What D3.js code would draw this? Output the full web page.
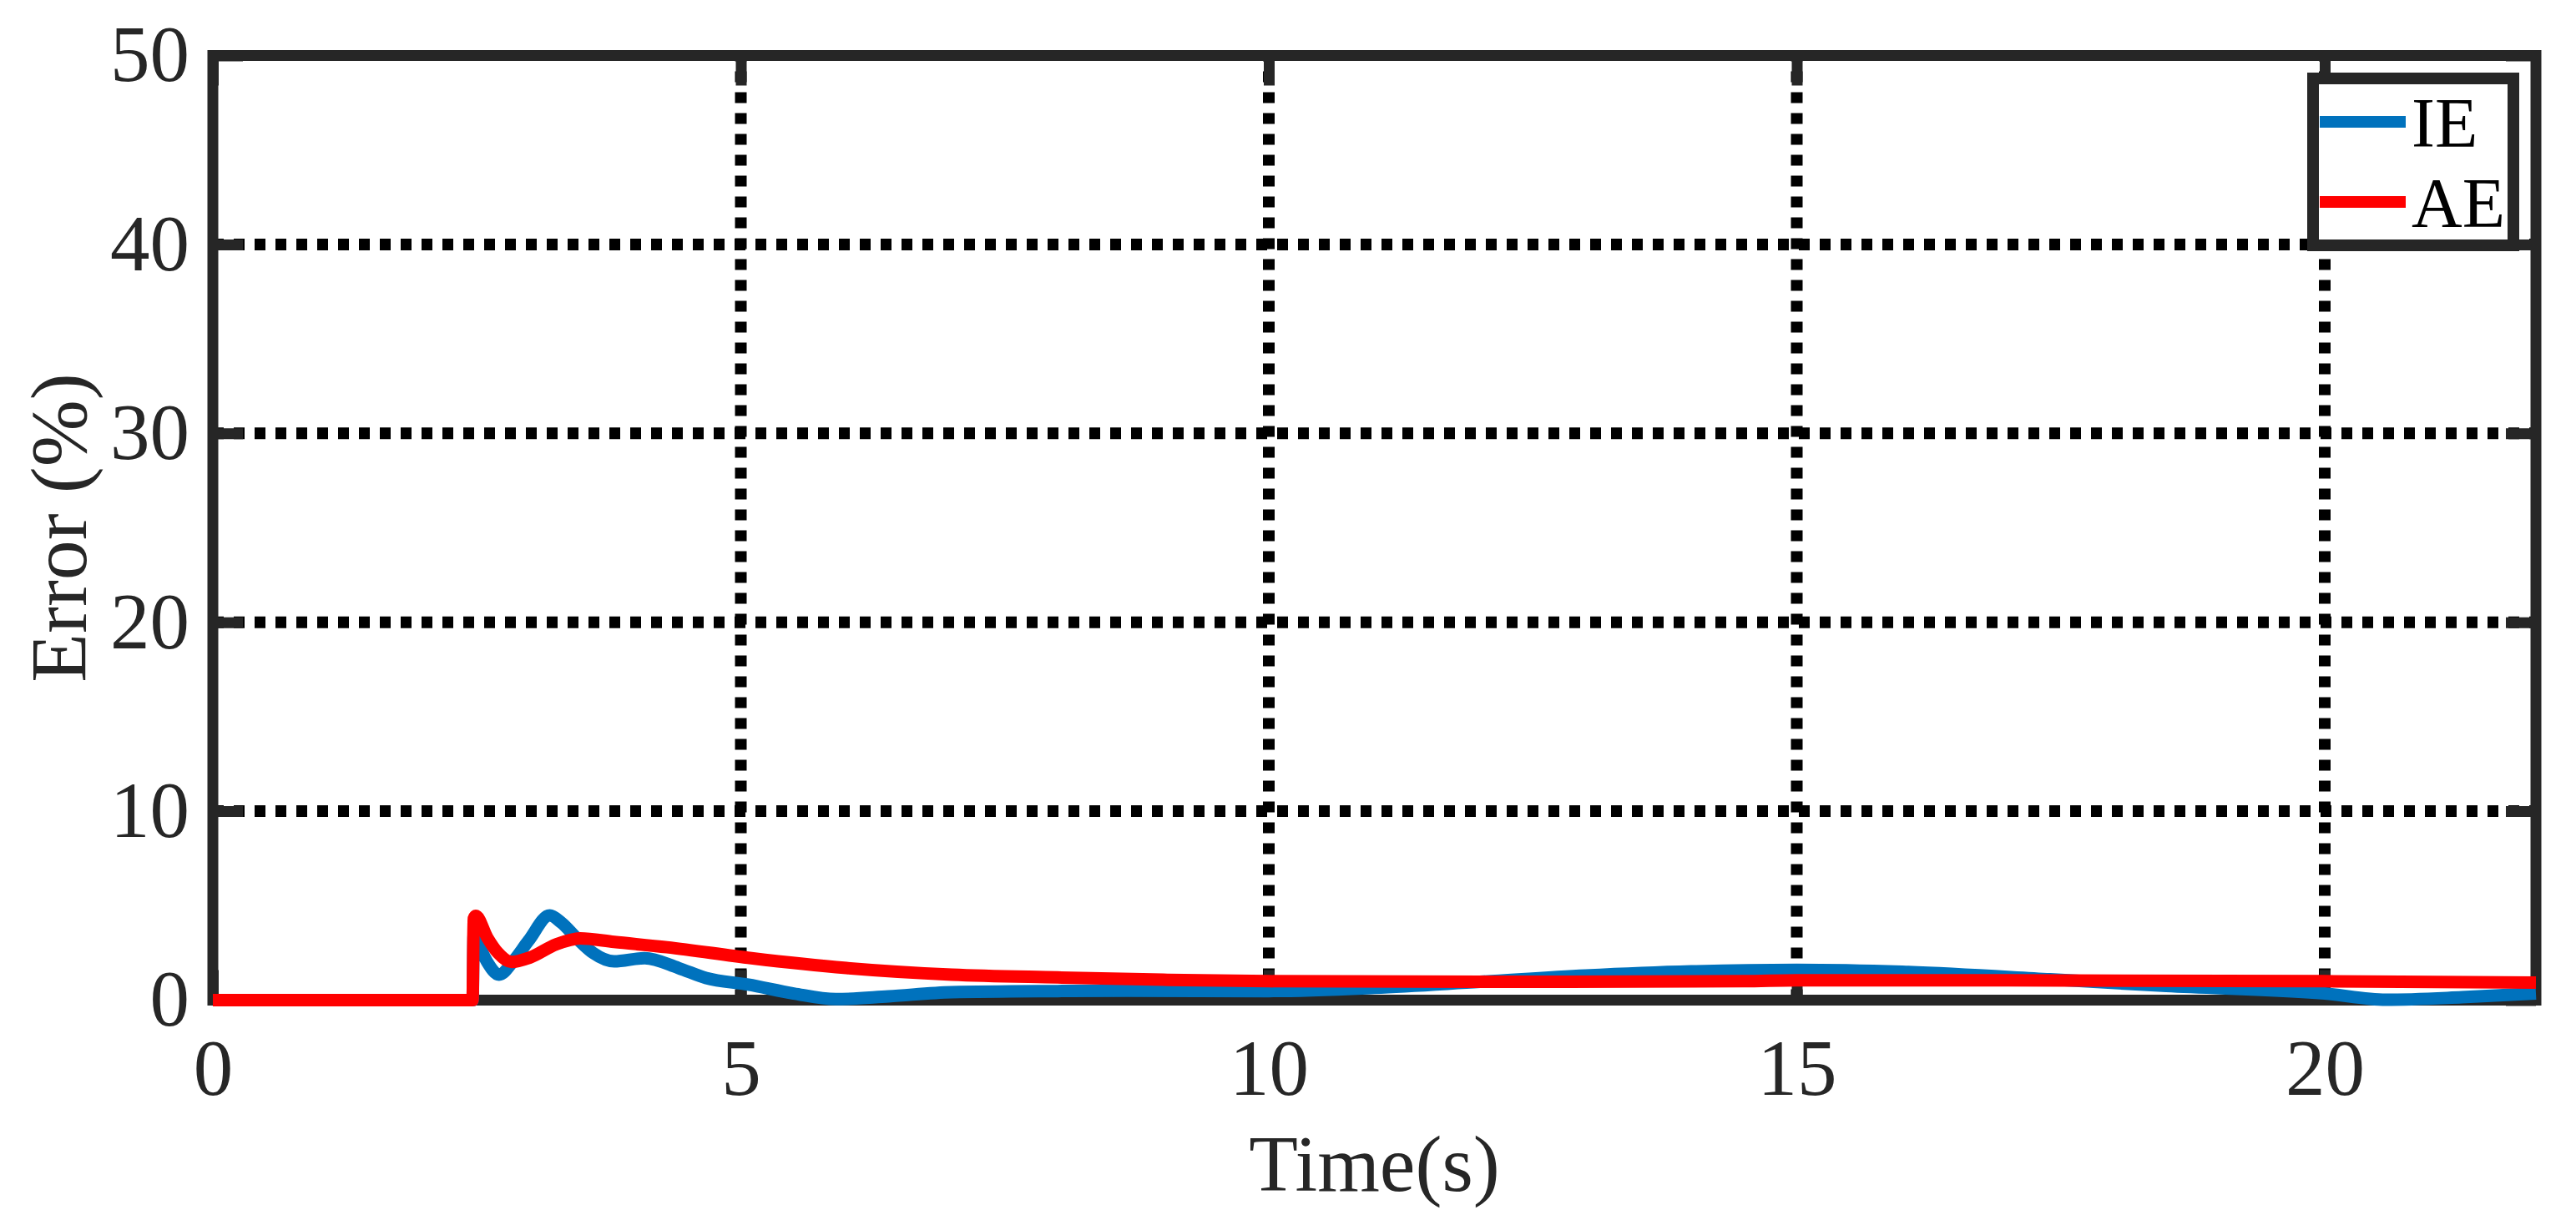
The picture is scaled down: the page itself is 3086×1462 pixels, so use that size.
<!DOCTYPE html>
<html>
<head>
<meta charset="utf-8">
<script src="https://cdn.jsdelivr.net/npm/d3@7"></script>
<style>
  body { margin: 0; background: #fff; }
  text { font-family: "Liberation Serif", "Times New Roman", serif; fill: #262626; }
  .tick line { stroke: #262626; stroke-width: 13; }
</style>
</head>
<body>
<div id="chart"></div>
<script>
'use strict';

// data (time in s, error in %)
var timeIE = [0, 2.46, 2.47, 2.52, 2.6, 2.71, 2.85, 2.99, 3.19, 3.3, 3.45, 3.6, 3.8, 4.09, 4.41, 4.67, 5.07, 5.5, 5.9, 6.4, 7.0, 8.0, 8.66, 10, 11, 12, 13, 14, 15, 16, 17.4, 18.5, 20, 20.58, 21.3, 22];
var errIE  = [0, 0, 3.4, 2.9, 2.0, 1.35, 2.1, 3.15, 4.48, 4.1, 3.25, 2.5, 2.05, 2.22, 1.7, 1.17, 0.82, 0.35, 0.05, 0.2, 0.42, 0.48, 0.5, 0.48, 0.65, 0.97, 1.3, 1.52, 1.6, 1.5, 1.1, 0.75, 0.35, 0.02, 0.15, 0.35];

var timeAE = [0, 2.46, 2.47, 2.49, 2.6, 2.7, 2.83, 3.0, 3.25, 3.48, 3.8, 4.3, 5.1, 6.0, 7.0, 8.0, 9.0, 10, 12, 14.5, 15, 17, 20, 22];
var errAE  = [0, 0, 4.3, 4.46, 3.3, 2.5, 2.02, 2.25, 2.95, 3.27, 3.08, 2.8, 2.22, 1.7, 1.35, 1.2, 1.08, 1.0, 0.97, 1.0, 1.05, 1.05, 1.0, 0.93];

var xTicks = [0, 5, 10, 15, 20];
var yTicks = [0, 10, 20, 30, 40, 50];
var seriesNames = ["IE", "AE"];
var seriesColors = ["#0072BD", "#FF0000"];

// canvas / plot box
var W = 3086, H = 1462;
var margin = {top: 66.5, right: 48, bottom: 263.5, left: 255},
    width = W - margin.left - margin.right,
    height = H - margin.top - margin.bottom;

var svg = d3.select("#chart").append("svg")
    .attr("width", W)
    .attr("height", H);

var chart = svg.append("g")
    .attr("transform", "translate(" + margin.left + "," + margin.top + ")");

var x = d3.scaleLinear().domain([0, 22]).range([0, width]);
var y = d3.scaleLinear().domain([0, 50]).range([height, 0]);

// dotted grid
chart.selectAll(".vgrid")
    .data(xTicks.filter(function(d) { return d > 0; }))
  .enter().append("line")
    .attr("x1", function(d) { return x(d); })
    .attr("x2", function(d) { return x(d); })
    .attr("y1", height)
    .attr("y2", 0)
    .attr("stroke", "#000")
    .attr("stroke-width", 14)
    .attr("stroke-dasharray", "13,12");

chart.selectAll(".hgrid")
    .data(yTicks.filter(function(d) { return d > 0 && d < 50; }))
  .enter().append("line")
    .attr("x1", 0)
    .attr("x2", width)
    .attr("y1", function(d) { return y(d); })
    .attr("y2", function(d) { return y(d); })
    .attr("stroke", "#000")
    .attr("stroke-width", 14)
    .attr("stroke-dasharray", "13,12");

// axes with inward ticks
var fontSize = 95;

var xAxis = chart.append("g")
    .attr("transform", "translate(0," + height + ")")
    .call(d3.axisBottom(x).tickValues(xTicks).tickSizeInner(-36).tickSizeOuter(0).tickPadding(46));
var yAxis = chart.append("g")
    .call(d3.axisLeft(y).tickValues(yTicks).tickSizeInner(-36).tickSizeOuter(0).tickPadding(28));
var xTop = chart.append("g")
    .call(d3.axisTop(x).tickValues(xTicks).tickSizeInner(-36).tickSizeOuter(0).tickFormat(""));
var yRight = chart.append("g")
    .attr("transform", "translate(" + width + ",0)")
    .call(d3.axisRight(y).tickValues(yTicks).tickSizeInner(-36).tickSizeOuter(0).tickFormat(""));

[xAxis, yAxis, xTop, yRight].forEach(function(a) {
    a.select(".domain").remove();
    a.selectAll("text")
        .attr("font-size", fontSize)
        .attr("font-family", "Liberation Serif, Times New Roman, serif")
        .attr("fill", "#262626");
});

// box
chart.append("rect")
    .attr("x", 0)
    .attr("y", 0)
    .attr("width", width)
    .attr("height", height)
    .attr("fill", "none")
    .attr("stroke", "#262626")
    .attr("stroke-width", 13);

// lines
var line = d3.line()
    .x(function(d) { return x(d[0]); })
    .y(function(d) { return y(d[1]); })
    .curve(d3.curveMonotoneX);

var seriesData = [
    d3.zip(timeIE, errIE),
    d3.zip(timeAE, errAE)
];

chart.selectAll(".series")
    .data(seriesData)
  .enter().append("path")
    .attr("fill", "none")
    .attr("stroke", function(d, i) { return seriesColors[i]; })
    .attr("stroke-width", 15)
    .attr("stroke-linejoin", "round")
    .attr("d", line);

// axis titles
svg.append("text")
    .attr("x", margin.left + width / 2)
    .attr("y", 1427)
    .attr("text-anchor", "middle")
    .attr("font-size", 96)
    .text("Time(s)");

svg.append("text")
    .attr("transform", "translate(103," + (margin.top + height / 2) + ") rotate(-90)")
    .attr("text-anchor", "middle")
    .attr("font-size", 96)
    .text("Error (%)");

// legend
var legend = svg.append("g");
legend.append("rect")
    .attr("x", 2771)
    .attr("y", 94)
    .attr("width", 240)
    .attr("height", 200)
    .attr("fill", "#fff")
    .attr("stroke", "#262626")
    .attr("stroke-width", 14);

seriesNames.forEach(function(name, i) {
    var ly = 146 + i * 96;
    legend.append("line")
        .attr("x1", 2779)
        .attr("x2", 2882)
        .attr("y1", ly)
        .attr("y2", ly)
        .attr("stroke", seriesColors[i])
        .attr("stroke-width", 14);
    legend.append("text")
        .attr("x", 2889)
        .attr("y", ly + 30)
        .attr("font-size", 84)
        .attr("fill", "#000")
        .style("fill", "#000")
        .text(name);
});
</script>
</body>
</html>
